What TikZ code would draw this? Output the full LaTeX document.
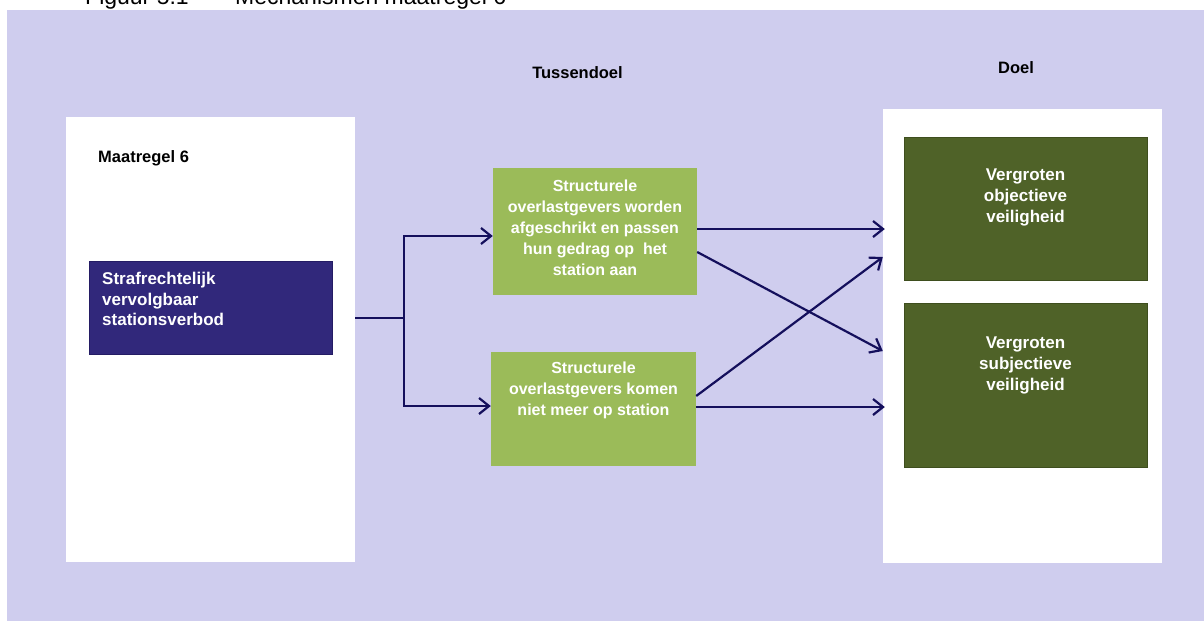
\documentclass[tikz,border=0pt]{standalone}
\usepackage{fontspec}
\setmainfont{Liberation Sans}
\usetikzlibrary{arrows.meta,calc}
\definecolor{lav}{RGB}{207,205,238}
\definecolor{navybox}{RGB}{49,40,123}
\definecolor{navyedge}{RGB}{36,28,100}
\definecolor{lgreen}{RGB}{155,187,89}
\definecolor{dgreen}{RGB}{79,98,40}
\definecolor{dgedge}{RGB}{62,78,30}
\definecolor{conncol}{RGB}{20,15,92}
\tikzset{
  panel/.style={fill=white, inner sep=0pt},
  bluebox/.style={fill=navybox, draw=navyedge, line width=0.8pt, inner sep=0pt},
  greenbox/.style={fill=lgreen, inner sep=0pt},
  dgbox/.style={fill=dgreen, draw=dgedge, line width=0.8pt, inner sep=0pt},
  boxtext/.style={text=white, inner sep=0pt, font=\bfseries\fontsize{16}{21}\selectfont, align=center},
  bigtext/.style={text=white, inner sep=0pt, font=\bfseries\fontsize{17}{21}\selectfont},
  head/.style={text=black, inner sep=0pt, font=\bfseries\fontsize{16.5}{20}\selectfont},
  conn/.style={draw=conncol, line width=2.2pt},
  arr/.style={conn, -{Straight Barb[length=10pt,width=16pt]}}
}
\begin{document}
\begin{tikzpicture}[x=1pt,y=-1pt]
\useasboundingbox (0,0) rectangle (1204,621);
\fill[lav] (7,9.5) rectangle (1204,621);
% caption (cut off at top)
\node[anchor=base west, inner sep=0pt, font=\fontsize{23}{27}\selectfont] (cap1) at (85,5) {Figuur 5.1};
\node[anchor=base west, inner sep=0pt, font=\fontsize{23}{27}\selectfont] (cap2) at (235,5) {Mechanismen maatregel 6};
% panels
\node[panel, minimum width=289pt, minimum height=445pt] (lp) at (210.5,339.5) {};
\node[panel, minimum width=279pt, minimum height=454pt] (rp) at (1022.5,336) {};
% headings
\node[head, anchor=west] (mt) at (98,158) {Maatregel 6};
\node[head] (tus) at (577.5,73) {Tussendoel};
\node[head] (doel) at (1016,68) {Doel};
% boxes
\node[bluebox, minimum width=243pt, minimum height=93pt] (blue) at (210.5,307.5) {};
\node[bigtext, anchor=north west, align=left, font=\bfseries\fontsize{17}{20.5}\selectfont] (bluet) at (102,272) {Strafrechtelijk\\vervolgbaar\\stationsverbod};
\node[greenbox, minimum width=204pt, minimum height=127pt] (g1) at (595,231.5) {};
\node[boxtext, anchor=north] (g1t) at (595,180) {Structurele\\overlastgevers worden\\afgeschrikt en passen\\hun gedrag op~ het\\station aan};
\node[greenbox, minimum width=205pt, minimum height=114pt] (g2) at (593.5,409) {};
\node[boxtext, anchor=north] (g2t) at (593.5,362) {Structurele\\overlastgevers komen\\niet meer op station};
\node[dgbox, minimum width=243pt, minimum height=143pt] (d1) at (1025.5,208.5) {};
\node[bigtext, anchor=north, align=center] (d1t) at (1025.5,169) {Vergroten\\objectieve\\veiligheid};
\node[dgbox, minimum width=243pt, minimum height=164pt] (d2) at (1025.5,385) {};
\node[bigtext, anchor=north, align=center] (d2t) at (1025.5,337) {Vergroten\\subjectieve\\veiligheid};
% connector coordinates
\coordinate (split) at (404,318);
\coordinate (ya) at (0,236);
\coordinate (yb) at (0,406);
\coordinate (y1) at (0,229);
\coordinate (y2) at (0,252);
\coordinate (y3) at (0,351);
\coordinate (y4) at (0,396);
\coordinate (y5) at (0,257);
\coordinate (y6) at (0,407);
% connectors
\draw[conn] (lp.east |- split) -- (split);
\draw[arr] (split) |- (g1.west |- ya);
\draw[arr] (split) |- (g2.west |- yb);
\draw[arr] (g1.east |- y1) -- ($(rp.west |- y1)+(2,0)$);
\draw[arr] (g1.east |- y2) -- (rp.west |- y3);
\draw[arr] (g2.east |- y4) -- (rp.west |- y5);
\draw[arr] (g2.east |- y6) -- ($(rp.west |- y6)+(2,0)$);
\end{tikzpicture}
\end{document}
